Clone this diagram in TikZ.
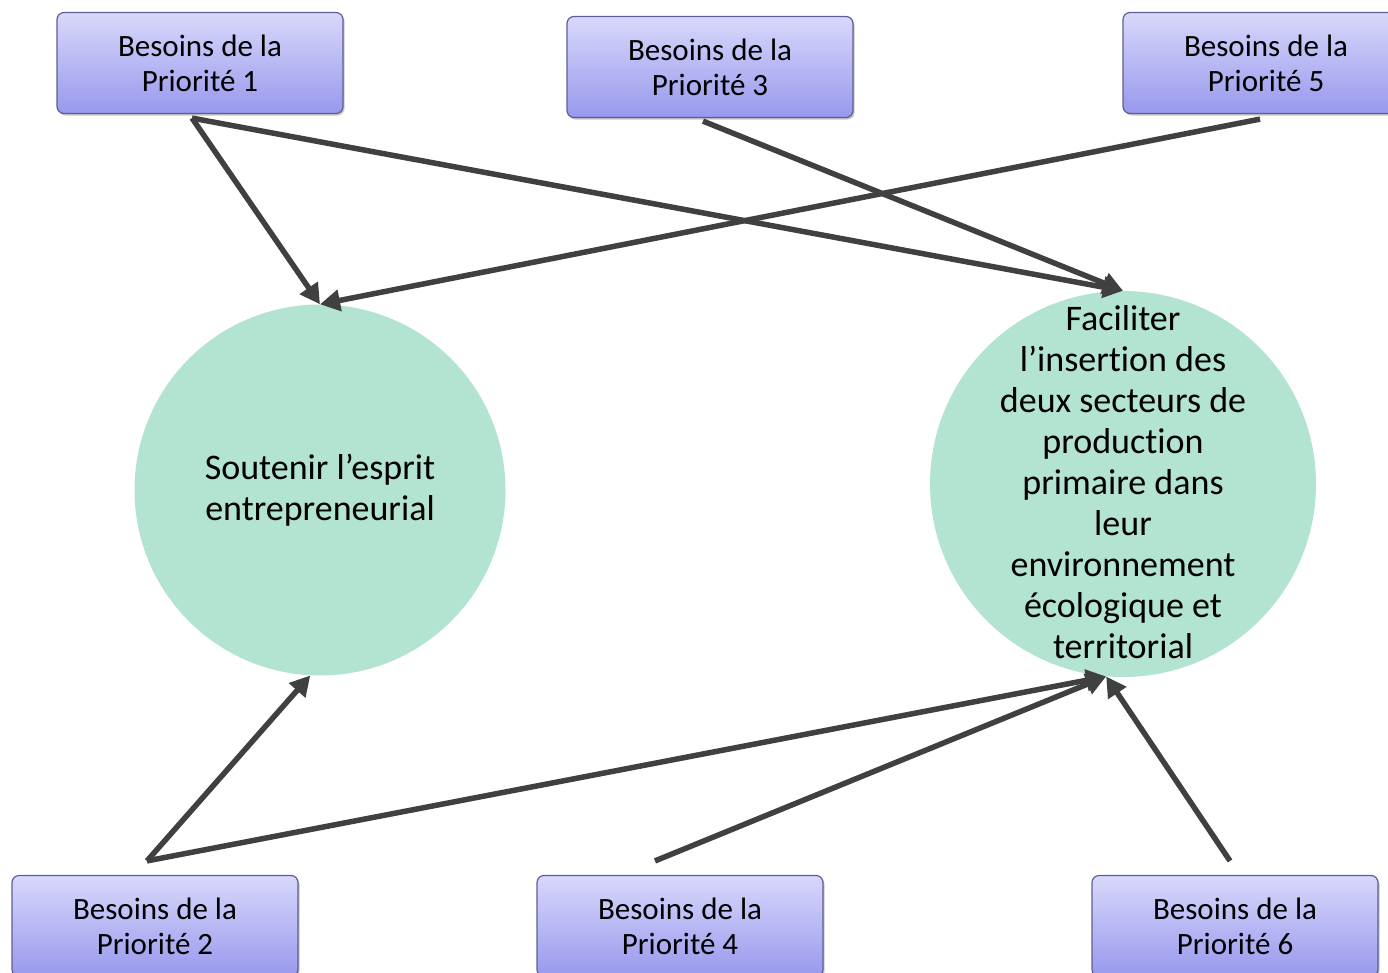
\documentclass[tikz,border=0pt]{standalone}
\usepackage{fontspec}
\setmainfont{Carlito}[Ligatures={NoCommon,NoContextual,NoRare,NoDiscretionary},RawFeature={-liga;-clig;-calt;-dlig}]
\usetikzlibrary{arrows.meta,calc,shadows}
\definecolor{boxtop}{HTML}{D8D8FB}
\definecolor{boxbot}{HTML}{9898EE}
\definecolor{boxline}{HTML}{5E5E96}
\definecolor{mint}{HTML}{B3E3D1}
\definecolor{arr}{HTML}{404040}
\begin{document}
\begin{tikzpicture}[x=1pt,y=-1pt,
  needbox/.style={rectangle, rounded corners=7pt, draw=boxline, line width=1.2pt,
    top color=boxtop, bottom color=boxbot, minimum width=286pt, minimum height=101pt,
    align=center, font=\fontsize{31}{35}\selectfont, inner sep=0pt,
    drop shadow={shadow xshift=1.5pt, shadow yshift=-2pt, fill=black!45}},
  goal/.style={circle, fill=mint, inner sep=0pt},
  goaltext/.style={align=center, font=\fontsize{36}{41}\selectfont, inner sep=0pt},
  link/.style={draw=arr, line width=5.5pt, -{Triangle[length=20pt,width=21pt]}}]
\useasboundingbox (0,0) rectangle (1388,972);
\clip (0,0) rectangle (1388,972);

% goal circles
\node[goal, minimum size=371pt] (c1) at (320,490) {};
\node[goaltext] (t1) at (c1.center) {Soutenir l’esprit\\entrepreneurial};
\node[goal, minimum size=386pt] (c2) at (1123,484) {};
\node[goaltext] (t2) at (1123,482) {Faciliter\\l’insert\kern0pt ion des\\deux secteurs de\\product\kern0pt ion\\primaire dans\\leur\\environnement\\écologique et\\territorial};

% need boxes
\node[needbox] (p1) at (200,63) {Besoins de la\\Priorité 1};
\node[needbox] (p3) at (710,67) {Besoins de la\\Priorité 3};
\node[needbox] (p5) at (1266,63) {Besoins de la\\Priorité 5};
\node[needbox] (p2) at (155,926) {Besoins de la\\Priorité 2};
\node[needbox] (p4) at (680,926) {Besoins de la\\Priorité 4};
\node[needbox] (p6) at (1235,926) {Besoins de la\\Priorité 6};

% arrow start points
\coordinate (p1o) at ($(p1.south)+(-8,4)$);
\coordinate (p3o) at ($(p3.south)+(-7,3)$);
\coordinate (p5o) at ($(p5.south)+(-6,5)$);
\coordinate (p2o) at ($(p2.north)+(-8,-14)$);
\coordinate (p4o) at ($(p4.north)+(-25,-14)$);
\coordinate (p6o) at ($(p6.north)+(-5,-14)$);

% connectors
\draw[link] (p1o) -- (c1.north);
\draw[link] (p1o) -- (c2.north);
\draw[link] (p3o) -- (c2.north);
\draw[link] (p5o) -- (c1.north);
\draw[link] (p2o) -- (c1.267);
\draw[link] (p2o) -- (c2.265);
\draw[link] (p4o) -- (c2.265);
\draw[link] (p6o) -- (c2.265);
\end{tikzpicture}
\end{document}
